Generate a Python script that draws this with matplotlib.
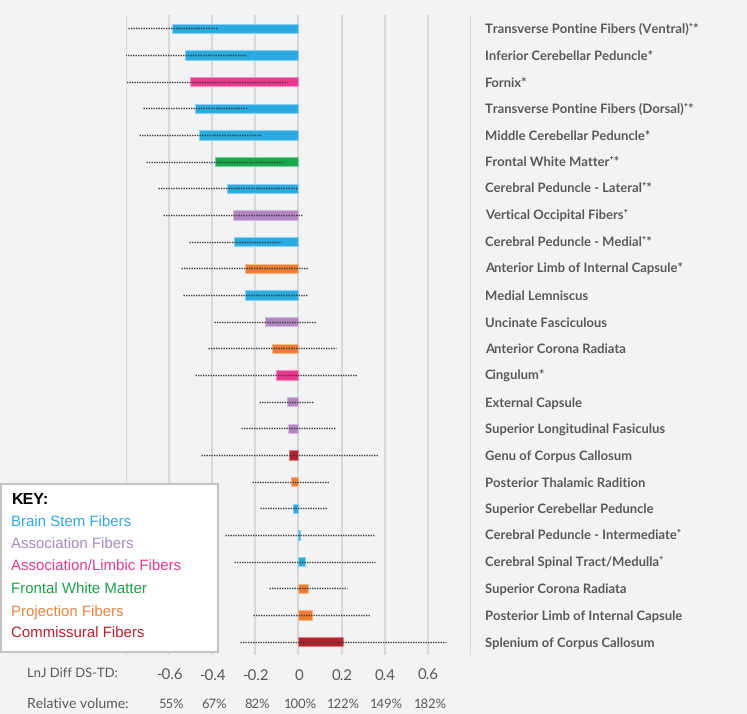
import matplotlib
matplotlib.use("Agg")
import matplotlib.pyplot as plt
from matplotlib.patches import Rectangle
import matplotlib.transforms as mtransforms
import matplotlib.colors as mc

plt.rcParams["text.hinting"] = "no_hinting"
plt.rcParams["text.hinting_factor"] = 1

# ---------------- data ----------------
labels = [
    "Transverse Pontine Fibers (Ventral)\u207a*",
    "Inferior Cerebellar Peduncle*",
    "Fornix*",
    "Transverse Pontine Fibers (Dorsal)\u207a*",
    "Middle Cerebellar Peduncle*",
    "Frontal White Matter\u207a*",
    "Cerebral Peduncle - Lateral\u207a*",
    "Vertical Occipital Fibers\u207a",
    "Cerebral Peduncle - Medial\u207a*",
    "Anterior Limb of Internal Capsule*",
    "Medial Lemniscus",
    "Uncinate Fasciculous",
    "Anterior Corona Radiata",
    "Cingulum*",
    "External Capsule",
    "Superior Longitudinal Fasiculus",
    "Genu of Corpus Callosum",
    "Posterior Thalamic Radition",
    "Superior Cerebellar Peduncle",
    "Cerebral Peduncle - Intermediate\u207a",
    "Cerebral Spinal Tract/Medulla\u207a",
    "Superior Corona Radiata",
    "Posterior Limb of Internal Capsule",
    "Splenium of Corpus Callosum",
]
groups = [
    "Brain Stem Fibers", "Brain Stem Fibers", "Association/Limbic Fibers",
    "Brain Stem Fibers", "Brain Stem Fibers", "Frontal White Matter",
    "Brain Stem Fibers", "Association Fibers", "Brain Stem Fibers",
    "Projection Fibers", "Brain Stem Fibers", "Association Fibers",
    "Projection Fibers", "Association/Limbic Fibers", "Association Fibers",
    "Association Fibers", "Commissural Fibers", "Projection Fibers",
    "Brain Stem Fibers", "Brain Stem Fibers", "Brain Stem Fibers",
    "Projection Fibers", "Projection Fibers", "Commissural Fibers",
]
values = [-0.586, -0.526, -0.502, -0.479, -0.462, -0.388, -0.332, -0.305,
          -0.298, -0.250, -0.247, -0.155, -0.122, -0.105, -0.054, -0.051,
          -0.045, -0.037, -0.026, 0.006, 0.031, 0.046, 0.063, 0.207]
err_low = [-0.793, -0.804, -0.807, -0.719, -0.742, -0.708, -0.652, -0.629,
           -0.509, -0.543, -0.535, -0.390, -0.421, -0.481, -0.184, -0.266,
           -0.453, -0.217, -0.178, -0.340, -0.298, -0.138, -0.209, -0.272]
err_high = [-0.377, -0.243, -0.052, -0.241, -0.175, -0.066, -0.005, 0.022,
            -0.085, 0.043, 0.043, 0.079, 0.173, 0.269, 0.073, 0.167,
            0.370, 0.141, 0.131, 0.354, 0.357, 0.227, 0.332, 0.685]

key_groups = ["Brain Stem Fibers", "Association Fibers", "Association/Limbic Fibers",
              "Frontal White Matter", "Projection Fibers", "Commissural Fibers"]
key_colors = ["#29ABE2", "#B185C0", "#E8398F", "#17A84B", "#EC7D32", "#B3222B"]
text_colors = ["#34A9DD", "#A98AC2", "#E4388C", "#1E9E4A", "#EA8440", "#B3222B"]

x_ticks = [-0.6, -0.4, -0.2, 0, 0.2, 0.4, 0.6]
x_tick_labels = ["-0.6", "-0.4", "-0.2", "0", "0.2", "0.4", "0.6"]
rel_volume = ["55%", "67%", "82%", "100%", "122%", "149%", "182%"]

# ---------------- figure ----------------
W, H = 747, 714
bg = "#F2F3F5"
fig = plt.figure(figsize=(W / 100, H / 100), dpi=100, facecolor=bg)


def fx(x):
    return x / W


def fy(y):
    return 1 - y / H


ax = fig.add_axes([fx(126), fy(655), fx(471) - fx(126), fy(15) - fy(655)])
ax.set_facecolor(bg)
ax.set_xlim(-0.8, 0.8)
ax.set_ylim(len(labels) - 0.5, -0.5)

for g in [-0.8, -0.6, -0.4, -0.2, 0, 0.2, 0.4, 0.6, 0.8]:
    ax.axvline(g, color="#D9DADC", lw=1.6, zorder=0)

cmap = dict(zip(key_groups, key_colors))


def lighten(c, f=0.45):
    r, g_, b = mc.to_rgb(c)
    return (r + (1 - r) * f, g_ + (1 - g_) * f, b + (1 - b) * f)


ys = list(range(len(labels)))
cols = [cmap[g] for g in groups]
ax.barh(ys, values, height=0.36, color=cols,
        edgecolor=[lighten(c) for c in cols], linewidth=0.8, zorder=2)
ax.hlines(ys, err_low, err_high, colors="#3C3C3C", linestyles=(0, (1, 0.8)),
          lw=1.0, zorder=3)

for s in ax.spines.values():
    s.set_visible(False)

ax.yaxis.tick_right()
ax.set_yticks(ys)
ax.set_yticklabels(labels, family=["Lato", "DejaVu Sans"], fontweight="bold",
                   fontsize=9.7, color="#595959")
ax.tick_params(axis="y", length=0, pad=10)

ax.set_xticks(x_ticks)
ax.set_xticklabels(x_tick_labels, family=["Lato", "DejaVu Sans"], fontsize=10.5,
                   color="#595959")
ax.tick_params(axis="x", length=0, pad=10)

trans = mtransforms.blended_transform_factory(ax.transData, fig.transFigure)
for xv, lab in zip(x_ticks, rel_volume):
    ax.text(xv + 0.01, fy(704), lab, transform=trans, ha="center", va="center",
            family="Lato", fontsize=9.2, color="#595959", clip_on=False)

fig.text(fx(27), fy(673), "LnJ Diff DS-TD:", ha="left", va="center",
         family="Lato", fontsize=9.6, color="#595959")
fig.text(fx(27), fy(704), "Relative volume:", ha="left", va="center",
         family="Lato", fontsize=10, color="#595959")

# key box
box = Rectangle((fx(1), fy(652)), fx(218) - fx(1), fy(484) - fy(652),
                transform=fig.transFigure, facecolor="white",
                edgecolor="#C4C4C4", lw=1.5, zorder=5)
fig.add_artist(box)
fig.text(fx(12), fy(500), "KEY:", ha="left", va="center", family="Liberation Sans",
         fontweight="bold", fontsize=11.5, color="black", zorder=6)
for i, (g, c) in enumerate(zip(key_groups, text_colors)):
    fig.text(fx(11), fy(523 + 22.2 * i), g, ha="left", va="center",
             family="Liberation Sans", fontsize=11, color=c, zorder=6)

fig.savefig("out.png", dpi=100, facecolor=bg)
